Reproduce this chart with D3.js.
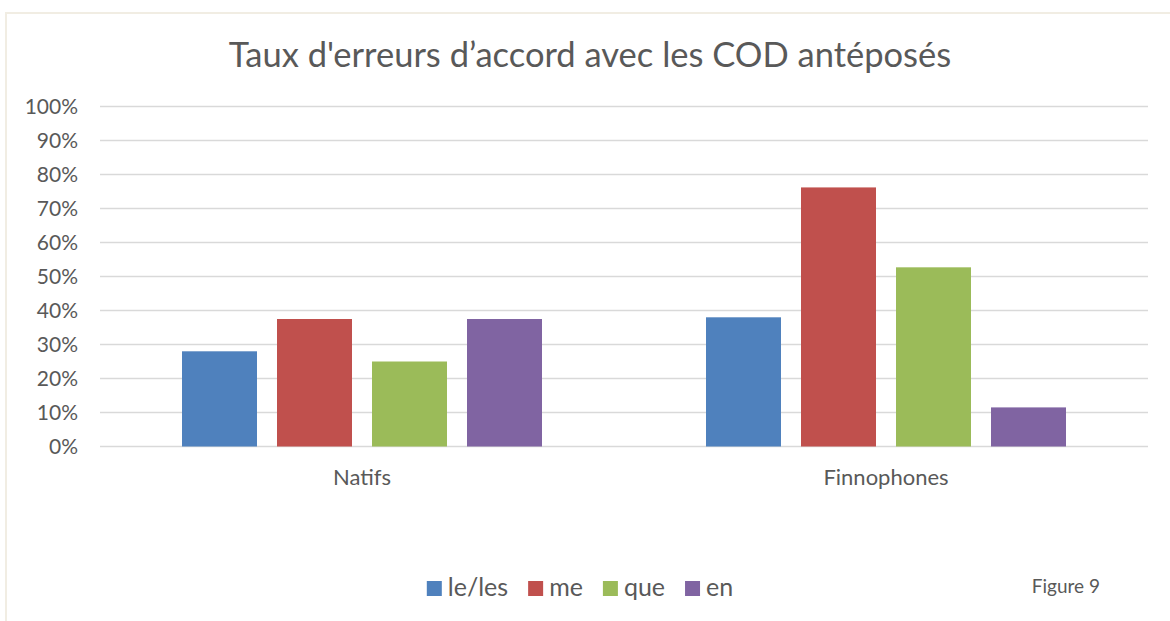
<!DOCTYPE html>
<html>
<head>
<meta charset="utf-8">
<script src="https://cdn.jsdelivr.net/npm/d3@7"></script>
<style>
  html, body { margin: 0; padding: 0; background: #ffffff; }
  svg { display: block; }
  text { font-family: Lato, "Open Sans", sans-serif; fill: #595959; }
</style>
</head>
<body>
<svg id="chart" width="1170" height="621"></svg>
<script>
const categories = ["Natifs", "Finnophones"];
const series = ["le/les", "me", "que", "en"];
const colors = ["#4f81bd", "#c0504d", "#9bbb59", "#8064a2"];
const values = {
  "le/les": [0.28, 0.38],
  "me":     [0.375, 0.762],
  "que":    [0.25, 0.527],
  "en":     [0.375, 0.115]
};
const yTicks = [0, 0.1, 0.2, 0.3, 0.4, 0.5, 0.6, 0.7, 0.8, 0.9, 1.0];
const title = "Taux d'erreurs d\u2019accord avec les COD antéposés";
const figureLabel = "Figure 9";

const svg = d3.select("#chart");

// outer frame (top and left edges visible)
svg.append("line").attr("x1", 6).attr("x2", 1170).attr("y1", 13).attr("y2", 13)
  .attr("stroke", "#f1ede3").attr("stroke-width", 2);
svg.append("line").attr("x1", 6).attr("x2", 6).attr("y1", 12).attr("y2", 621)
  .attr("stroke", "#f1ede3").attr("stroke-width", 2);

const plot = { left: 100, right: 1148, top: 106.5, bottom: 446.5 };

const y = d3.scaleLinear().domain([0, 1]).range([plot.bottom, plot.top]);
const x0 = d3.scaleBand().domain(categories).range([plot.left, plot.right]).padding(0);
const x1 = d3.scaleBand().domain(series).range([82, 442]).paddingInner(20 / 95).paddingOuter(0);

// gridlines
svg.append("g").selectAll("line").data(yTicks).join("line")
  .attr("x1", plot.left).attr("x2", plot.right)
  .attr("y1", d => y(d)).attr("y2", d => y(d))
  .attr("stroke", "#d9d9d9").attr("stroke-width", 1.5);

// y axis labels
const yAxis = d3.axisLeft(y).tickValues(yTicks).tickFormat(d3.format(".0%")).tickSize(0).tickPadding(22);
const gy = svg.append("g").attr("transform", `translate(${plot.left},0)`).call(yAxis);
gy.select(".domain").remove();
gy.selectAll("text").attr("font-size", 21).attr("font-family", "Lato, sans-serif").attr("fill", "#595959");

// bars
const groups = svg.append("g").selectAll("g").data(categories).join("g")
  .attr("transform", d => `translate(${x0(d)},0)`);
groups.selectAll("rect")
  .data((c, ci) => series.map((s, si) => ({ s, si, v: values[s][ci] })))
  .join("rect")
  .attr("x", d => x1(d.s))
  .attr("width", x1.bandwidth())
  .attr("y", d => y(d.v))
  .attr("height", d => y(0) - y(d.v))
  .attr("fill", d => colors[d.si]);

// category labels
const xAxis = d3.axisBottom(x0).tickSize(0).tickPadding(23);
const gx = svg.append("g").attr("transform", `translate(0,${plot.bottom})`).call(xAxis);
gx.select(".domain").remove();
gx.selectAll("text").attr("font-size", 22).attr("font-family", "Lato, sans-serif").attr("fill", "#595959");

// title
svg.append("text").attr("x", 590).attr("y", 67).attr("text-anchor", "middle")
  .attr("font-size", 34.5).text(title);

// legend
const legend = svg.append("g");
let lx = 0;
series.forEach((s, i) => {
  const g = legend.append("g").attr("transform", `translate(${lx},0)`);
  g.append("rect").attr("x", 0).attr("y", -15).attr("width", 15).attr("height", 15).attr("fill", colors[i]);
  const t = g.append("text").attr("x", 21).attr("y", 0).attr("font-size", 25).text(s);
  lx += 21 + t.node().getComputedTextLength() + 20;
});
const legendWidth = lx - 20;
legend.attr("transform", `translate(${580 - legendWidth / 2},596)`);

// figure label
svg.append("text").attr("x", 1100).attr("y", 593).attr("text-anchor", "end")
  .attr("font-size", 19).text(figureLabel);
</script>
</body>
</html>
